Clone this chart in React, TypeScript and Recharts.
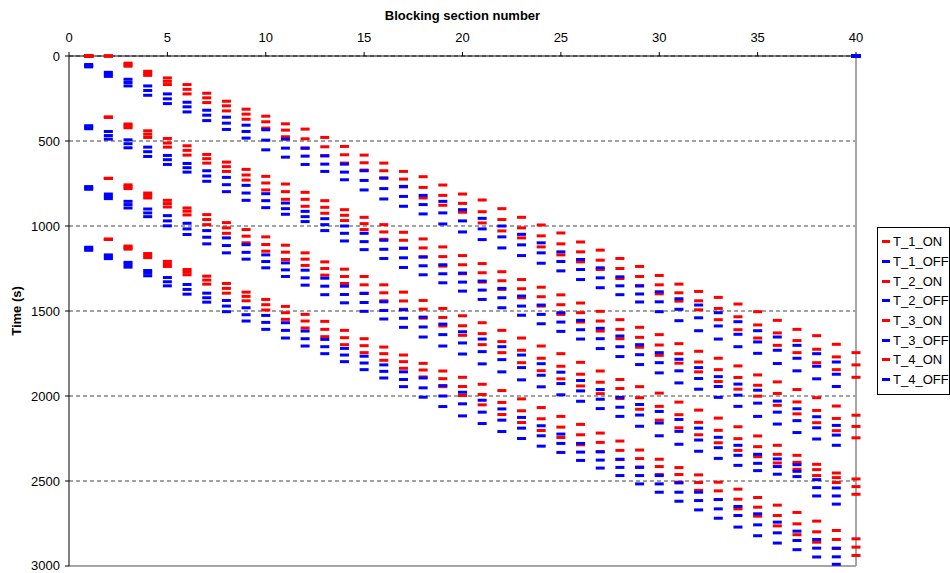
import { ScatterChart, Scatter, XAxis, YAxis, CartesianGrid, Legend, ReferenceLine } from 'recharts';

const RED = '#FF0000';
const BLUE = '#0000FF';
const FONT = '"Liberation Sans", Arial, sans-serif';

const SECTIONS = [
  1, 2, 3, 4, 5, 6, 7, 8, 9, 10, 11, 12, 13, 14, 15, 16, 17, 18, 19, 20,
  21, 22, 23, 24, 25, 26, 27, 28, 29, 30, 31, 32, 33, 34, 35, 36, 37, 38, 39, 40,
];
const X_TICKS = [0, 5, 10, 15, 20, 25, 30, 35, 40];
const Y_TICKS = [0, 500, 1000, 1500, 2000, 2500, 3000];

// times (s) per blocking section, three entries per section
const T1_ON = [
  [0, 0, 0], [0, 0, 0], [42, 51, 60], [90, 102, 114], [129, 149, 168], [168, 196, 223], [219, 246, 274], [266, 293, 323],
  [313, 342, 372], [354, 387, 424], [399, 436, 475], [430, 487, 542], [479, 534, 587], [532, 581, 630], [583, 628, 671], [630, 675, 718],
  [679, 724, 770], [710, 773, 835], [759, 820, 878], [812, 867, 919], [847, 916, 982], [898, 962, 1029], [949, 1011, 1070], [994, 1058, 1123],
  [1041, 1105, 1170], [1094, 1152, 1211], [1142, 1201, 1256], [1191, 1250, 1309], [1238, 1297, 1352], [1291, 1346, 1399], [1342, 1393, 1442], [1385, 1440, 1493],
  [1420, 1485, 1551], [1459, 1534, 1610], [1504, 1582, 1659], [1555, 1629, 1702], [1608, 1674, 1745], [1645, 1725, 1804], [1696, 1770, 1845], [1745, 1817, 1890],
];
const T1_OFF = [
  [50, 57, 64], [96, 108, 120], [137, 156, 176], [176, 203, 231], [223, 252, 280], [272, 299, 329], [319, 348, 380], [360, 395, 432],
  [407, 444, 483], [434, 495, 552], [489, 542, 595], [542, 589, 638], [587, 636, 679], [636, 683, 728], [675, 732, 788], [718, 780, 841],
  [767, 826, 884], [820, 874, 929], [855, 923, 988], [904, 970, 1035], [955, 1017, 1080], [1000, 1064, 1129], [1049, 1111, 1174], [1099, 1158, 1219],
  [1152, 1209, 1264], [1197, 1256, 1315], [1246, 1305, 1363], [1299, 1352, 1404], [1352, 1400, 1447], [1387, 1446, 1504], [1428, 1490, 1557], [1465, 1540, 1616],
  [1510, 1588, 1665], [1563, 1637, 1710], [1616, 1682, 1749], [1653, 1731, 1809], [1702, 1778, 1852], [1751, 1825, 1899], [1800, 1872, 1944], [0, 0, 0],
];
const T2_ON = [
  [0, 0, 0], [360, 360, 360], [400, 411, 422], [440, 460, 479], [485, 512, 536], [528, 555, 583], [579, 604, 630], [624, 651, 679],
  [667, 700, 730], [708, 747, 788], [753, 798, 843], [802, 843, 884], [851, 890, 925], [904, 937, 968], [949, 986, 1021], [992, 1035, 1078],
  [1037, 1084, 1131], [1076, 1129, 1182], [1123, 1180, 1236], [1174, 1228, 1281], [1221, 1275, 1330], [1269, 1322, 1373], [1315, 1369, 1422], [1360, 1416, 1471],
  [1405, 1463, 1520], [1453, 1510, 1565], [1502, 1559, 1618], [1551, 1608, 1663], [1596, 1655, 1713], [1639, 1700, 1761], [1692, 1751, 1807], [1737, 1800, 1858],
  [1778, 1845, 1915], [1823, 1891, 1960], [1876, 1937, 2001], [1917, 1985, 2055], [1962, 2035, 2105], [2010, 2085, 2157], [2059, 2132, 2204], [2113, 2179, 2246],
];
const T2_OFF = [
  [410, 419, 428], [444, 468, 489], [493, 516, 540], [536, 563, 591], [585, 610, 638], [632, 657, 683], [675, 706, 737], [714, 757, 798],
  [761, 806, 849], [810, 851, 892], [865, 898, 931], [914, 945, 974], [957, 992, 1027], [1000, 1043, 1088], [1043, 1092, 1139], [1084, 1137, 1191],
  [1131, 1187, 1244], [1182, 1234, 1287], [1228, 1281, 1334], [1277, 1330, 1383], [1324, 1377, 1432], [1367, 1422, 1481], [1412, 1471, 1525], [1465, 1520, 1575],
  [1510, 1565, 1620], [1555, 1610, 1665], [1602, 1663, 1721], [1647, 1710, 1768], [1698, 1757, 1815], [1745, 1804, 1864], [1784, 1852, 1923], [1833, 1897, 1960],
  [1886, 1944, 2008], [1930, 1995, 2061], [1966, 2042, 2120], [2030, 2095, 2165], [2075, 2145, 2215], [2122, 2187, 2253], [2173, 2230, 2290], [0, 0, 0],
];
const T3_ON = [
  [0, 0, 0], [720, 720, 720], [758, 769, 780], [806, 820, 835], [849, 868, 888], [894, 913, 935], [933, 962, 992], [980, 1011, 1043],
  [1021, 1060, 1099], [1064, 1109, 1148], [1113, 1154, 1197], [1158, 1195, 1232], [1211, 1250, 1289], [1254, 1297, 1338], [1297, 1346, 1395], [1346, 1393, 1440],
  [1389, 1441, 1490], [1438, 1489, 1542], [1485, 1538, 1588], [1528, 1587, 1643], [1569, 1633, 1698], [1614, 1680, 1745], [1659, 1731, 1804], [1706, 1778, 1851],
  [1751, 1825, 1899], [1802, 1872, 1941], [1853, 1919, 1986], [1903, 1956, 2015], [1945, 2010, 2078], [1983, 2061, 2142], [2036, 2110, 2187], [2083, 2155, 2228],
  [2130, 2202, 2275], [2181, 2251, 2320], [2235, 2298, 2357], [2290, 2343, 2394], [2349, 2390, 2431], [2402, 2433, 2468], [2453, 2480, 2509], [2488, 2533, 2578],
];
const T3_OFF = [
  [768, 776, 784], [812, 826, 839], [855, 874, 894], [900, 923, 945], [939, 970, 999], [984, 1017, 1050], [1027, 1066, 1105], [1070, 1115, 1158],
  [1110, 1155, 1195], [1170, 1209, 1246], [1217, 1258, 1297], [1260, 1305, 1348], [1307, 1354, 1404], [1354, 1403, 1452], [1397, 1450, 1502], [1446, 1497, 1547],
  [1493, 1543, 1596], [1536, 1594, 1653], [1577, 1639, 1706], [1622, 1688, 1753], [1665, 1739, 1811], [1710, 1786, 1858], [1759, 1833, 1905], [1810, 1878, 1946],
  [1860, 1927, 1993], [1909, 1970, 2031], [1962, 2019, 2074], [2008, 2066, 2120], [2050, 2112, 2178], [2091, 2159, 2234], [2138, 2208, 2284], [2189, 2259, 2325],
  [2243, 2304, 2367], [2290, 2349, 2408], [2343, 2396, 2439], [2370, 2415, 2460], [2404, 2443, 2474], [2492, 2539, 2588], [2541, 2588, 2636], [0, 0, 0],
];
const T4_ON = [
  [0, 0, 0], [1078, 1078, 1078], [1118, 1127, 1136], [1162, 1174, 1186], [1208, 1223, 1238], [1256, 1271, 1287], [1295, 1318, 1342], [1338, 1367, 1395],
  [1389, 1414, 1440], [1432, 1463, 1494], [1473, 1510, 1549], [1520, 1559, 1600], [1561, 1608, 1651], [1614, 1657, 1698], [1663, 1704, 1745], [1712, 1751, 1790],
  [1759, 1798, 1837], [1808, 1847, 1888], [1853, 1898, 1945], [1890, 1944, 1997], [1931, 1991, 2052], [1968, 2038, 2109], [2017, 2087, 2156], [2068, 2134, 2203],
  [2120, 2183, 2244], [2167, 2228, 2287], [2218, 2273, 2328], [2265, 2320, 2374], [2318, 2368, 2418], [2372, 2415, 2462], [2421, 2462, 2507], [2464, 2509, 2555],
  [2507, 2558, 2609], [2548, 2607, 2664], [2597, 2654, 2707], [2642, 2703, 2764], [2685, 2752, 2816], [2736, 2799, 2860], [2791, 2844, 2897], [2840, 2889, 2938],
];
const T4_OFF = [
  [1125, 1134, 1143], [1170, 1181, 1192], [1214, 1228, 1242], [1262, 1277, 1293], [1303, 1328, 1352], [1344, 1373, 1401], [1395, 1422, 1448], [1438, 1471, 1504],
  [1481, 1522, 1559], [1526, 1567, 1608], [1569, 1614, 1659], [1618, 1663, 1706], [1667, 1710, 1751], [1720, 1759, 1798], [1766, 1806, 1845], [1817, 1855, 1894],
  [1858, 1903, 1945], [1894, 1952, 2007], [1939, 2000, 2062], [1978, 2046, 2117], [2025, 2095, 2162], [2076, 2142, 2209], [2126, 2189, 2250], [2175, 2234, 2295],
  [2224, 2279, 2332], [2279, 2330, 2379], [2328, 2377, 2424], [2372, 2420, 2468], [2420, 2468, 2517], [2468, 2517, 2566], [2511, 2566, 2619], [2566, 2615, 2670],
  [2609, 2664, 2719], [2650, 2703, 2771], [2693, 2758, 2822], [2742, 2805, 2865], [2795, 2850, 2904], [2844, 2895, 2947], [2895, 2946, 2990], [0, 0, 0],
];

const SERIES = [
  { name: 'T_1_ON', color: RED, rows: T1_ON },
  { name: 'T_1_OFF', color: BLUE, rows: T1_OFF },
  { name: 'T_2_ON', color: RED, rows: T2_ON },
  { name: 'T_2_OFF', color: BLUE, rows: T2_OFF },
  { name: 'T_3_ON', color: RED, rows: T3_ON },
  { name: 'T_3_OFF', color: BLUE, rows: T3_OFF },
  { name: 'T_4_ON', color: RED, rows: T4_ON },
  { name: 'T_4_OFF', color: BLUE, rows: T4_OFF },
];

const toPoints = (rows: number[][]) =>
  rows.flatMap((vals, i) => vals.map((t) => ({ section: SECTIONS[i], time: t })));

const dash = (color: string) => (props: any) => (
  <rect x={props.cx - 4.5} y={props.cy - 1.5} width={9} height={3} fill={color} />
);

const LegendBox = () => (
  <div
    style={{
      border: '1px solid #000',
      background: '#fff',
      boxSizing: 'border-box',
      width: 73,
      padding: '4px 0 4px 4px',
      fontFamily: FONT,
      fontSize: 13,
    }}
  >
    {SERIES.map((s) => (
      <div key={s.name} style={{ display: 'flex', alignItems: 'center', height: 19.7, whiteSpace: 'nowrap' }}>
        <span style={{ display: 'inline-block', flex: 'none', width: 8, height: 3, background: s.color, marginRight: 3 }} />
        <span>{s.name}</span>
      </div>
    ))}
  </div>
);

const App = () => {
  return (
    <div style={{ padding: '8px 0 0 8px', width: 942, height: 565 }}>
      <style>{'body { margin: 0; }'}</style>
      <ScatterChart
        width={942}
        height={565}
        margin={{ top: 0, right: 94, bottom: 7, left: 0 }}
        style={{ overflow: 'visible' }}
      >
        <CartesianGrid vertical={false} stroke="#444" strokeDasharray="4 3" />
        <XAxis
          type="number"
          dataKey="section"
          orientation="top"
          height={48}
          domain={[0, 40]}
          ticks={X_TICKS}
          tickSize={4}
          tickMargin={10}
          stroke="#000"
          tick={{ fill: '#000', fontSize: 13, fontFamily: FONT }}
          label={{
            content: () => (
              <text x={454.5} y={11.5} textAnchor="middle" fontFamily={FONT} fontSize={13} fontWeight="bold" fill="#000">
                Blocking section number
              </text>
            ),
          }}
        />
        <YAxis
          type="number"
          dataKey="time"
          reversed
          width={61}
          domain={[0, 3000]}
          ticks={Y_TICKS}
          tickSize={4}
          tickMargin={5}
          stroke="#000"
          tick={{ fill: '#000', fontSize: 13, fontFamily: FONT }}
          label={{
            content: () => (
              <text
                x={13}
                y={303}
                transform="rotate(-90 13 303)"
                textAnchor="middle"
                fontFamily={FONT}
                fontSize={13}
                fontWeight="bold"
                fill="#000"
              >
                Time (s)
              </text>
            ),
          }}
        />
        <ReferenceLine x={40} stroke="#a6a6a6" strokeWidth={2} />
        <ReferenceLine y={3000} stroke="#a6a6a6" strokeWidth={2} />
        {SERIES.map((s) => (
          <Scatter
            key={s.name}
            name={s.name}
            data={toPoints(s.rows)}
            fill={s.color}
            shape={dash(s.color)}
            isAnimationActive={false}
          />
        ))}
        <Legend
          layout="vertical"
          align="center"
          verticalAlign="middle"
          wrapperStyle={{ left: 869, top: 219, width: 73 }}
          content={() => <LegendBox />}
        />
      </ScatterChart>
    </div>
  );
};

export default App;
